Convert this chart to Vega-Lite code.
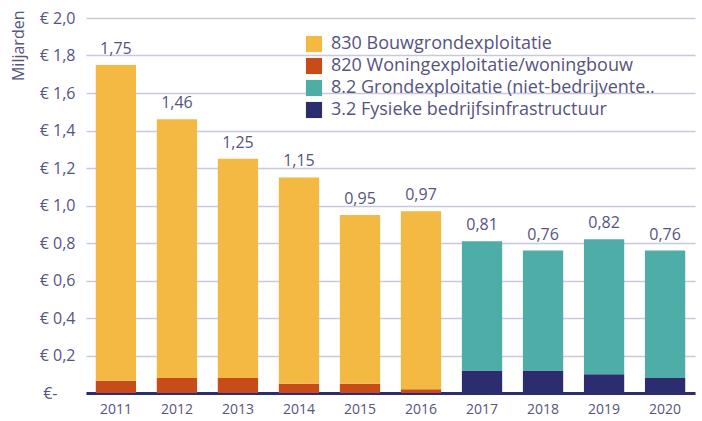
{
  "$schema": "https://vega.github.io/schema/vega-lite/v6.json",
  "width": 609,
  "height": 375,
  "autosize": "none",
  "padding": {"left": 86, "top": 18, "right": 7, "bottom": 28},
  "config": {
    "font": "Open Sans",
    "view": {"stroke": null},
    "locale": {"number": {"decimal": ",", "thousands": ".", "grouping": [3], "currency": ["€ ", ""]}}
  },
  "data": {
    "values": [
      {"year": "2011", "category": "820 Woningexploitatie/woningbouw", "pos": 1, "value": 0.065},
      {"year": "2011", "category": "830 Bouwgrondexploitatie", "pos": 2, "value": 1.685},
      {"year": "2012", "category": "820 Woningexploitatie/woningbouw", "pos": 1, "value": 0.08},
      {"year": "2012", "category": "830 Bouwgrondexploitatie", "pos": 2, "value": 1.38},
      {"year": "2013", "category": "820 Woningexploitatie/woningbouw", "pos": 1, "value": 0.08},
      {"year": "2013", "category": "830 Bouwgrondexploitatie", "pos": 2, "value": 1.17},
      {"year": "2014", "category": "820 Woningexploitatie/woningbouw", "pos": 1, "value": 0.05},
      {"year": "2014", "category": "830 Bouwgrondexploitatie", "pos": 2, "value": 1.10},
      {"year": "2015", "category": "820 Woningexploitatie/woningbouw", "pos": 1, "value": 0.05},
      {"year": "2015", "category": "830 Bouwgrondexploitatie", "pos": 2, "value": 0.90},
      {"year": "2016", "category": "820 Woningexploitatie/woningbouw", "pos": 1, "value": 0.02},
      {"year": "2016", "category": "830 Bouwgrondexploitatie", "pos": 2, "value": 0.95},
      {"year": "2017", "category": "3.2 Fysieke bedrijfsinfrastructuur", "pos": 1, "value": 0.12},
      {"year": "2017", "category": "8.2 Grondexploitatie (niet-bedrijvente..", "pos": 2, "value": 0.69},
      {"year": "2018", "category": "3.2 Fysieke bedrijfsinfrastructuur", "pos": 1, "value": 0.12},
      {"year": "2018", "category": "8.2 Grondexploitatie (niet-bedrijvente..", "pos": 2, "value": 0.64},
      {"year": "2019", "category": "3.2 Fysieke bedrijfsinfrastructuur", "pos": 1, "value": 0.10},
      {"year": "2019", "category": "8.2 Grondexploitatie (niet-bedrijvente..", "pos": 2, "value": 0.72},
      {"year": "2020", "category": "3.2 Fysieke bedrijfsinfrastructuur", "pos": 1, "value": 0.08},
      {"year": "2020", "category": "8.2 Grondexploitatie (niet-bedrijvente..", "pos": 2, "value": 0.68}
    ]
  },
  "encoding": {
    "x": {
      "field": "year", "type": "ordinal",
      "scale": {"paddingInner": 0.34, "paddingOuter": 0.16},
      "axis": {
        "title": null, "labelAngle": 0, "ticks": false, "domainColor": "#2B2D6E", "domainWidth": 3,
        "labelColor": "#55547f", "labelFontSize": 14, "labelPadding": 9
      }
    },
    "y": {
      "field": "value", "type": "quantitative", "stack": "zero",
      "scale": {"domain": [0, 2]},
      "axis": {
        "title": "Miljarden", "titleFontWeight": "normal", "titleFontSize": 16, "titleColor": "#55547f",
        "titleAngle": -90, "titleAlign": "right", "titleBaseline": "middle", "titleX": -68, "titleY": -8,
        "values": [0, 0.2, 0.4, 0.6, 0.8, 1.0, 1.2, 1.4, 1.6, 1.8, 2.0],
        "labelOverlap": false,
        "labelExpr": "datum.value == 0 ? '€-' : '€ ' + replace(format(datum.value, '.1f'), '.', ',')",
        "labelPadding": {"condition": {"test": "datum.value == 0", "value": 29}, "value": 11},
        "domain": false, "ticks": false, "labelFontSize": 16, "labelColor": "#55547f",
        "gridColor": "#c9c8de", "gridWidth": 1.5
      }
    }
  },
  "layer": [
    {
      "mark": {"type": "bar"},
      "encoding": {
        "color": {
          "field": "category", "type": "nominal",
          "scale": {
            "domain": ["830 Bouwgrondexploitatie", "820 Woningexploitatie/woningbouw", "8.2 Grondexploitatie (niet-bedrijvente..", "3.2 Fysieke bedrijfsinfrastructuur"],
            "range": ["#F4B942", "#C84B1A", "#4FADA8", "#2B2D6E"]
          },
          "legend": {
            "title": null, "orient": "none", "legendX": 219, "legendY": 17,
            "symbolType": "square", "symbolSize": 260, "symbolStrokeWidth": 0, "symbolOpacity": 1,
            "labelFontSize": 18, "labelColor": "#55547f", "labelLimit": 420, "rowPadding": 4, "labelOffset": 8
          }
        },
        "order": {"field": "pos", "type": "quantitative", "sort": "ascending"}
      }
    },
    {
      "transform": [{"aggregate": [{"op": "sum", "field": "value", "as": "value"}], "groupby": ["year"]}],
      "mark": {"type": "text", "baseline": "bottom", "dy": -8, "fontSize": 16, "color": "#55547f"},
      "encoding": {
        "text": {"field": "value", "type": "quantitative", "format": ".2f"}
      }
    }
  ]
}
